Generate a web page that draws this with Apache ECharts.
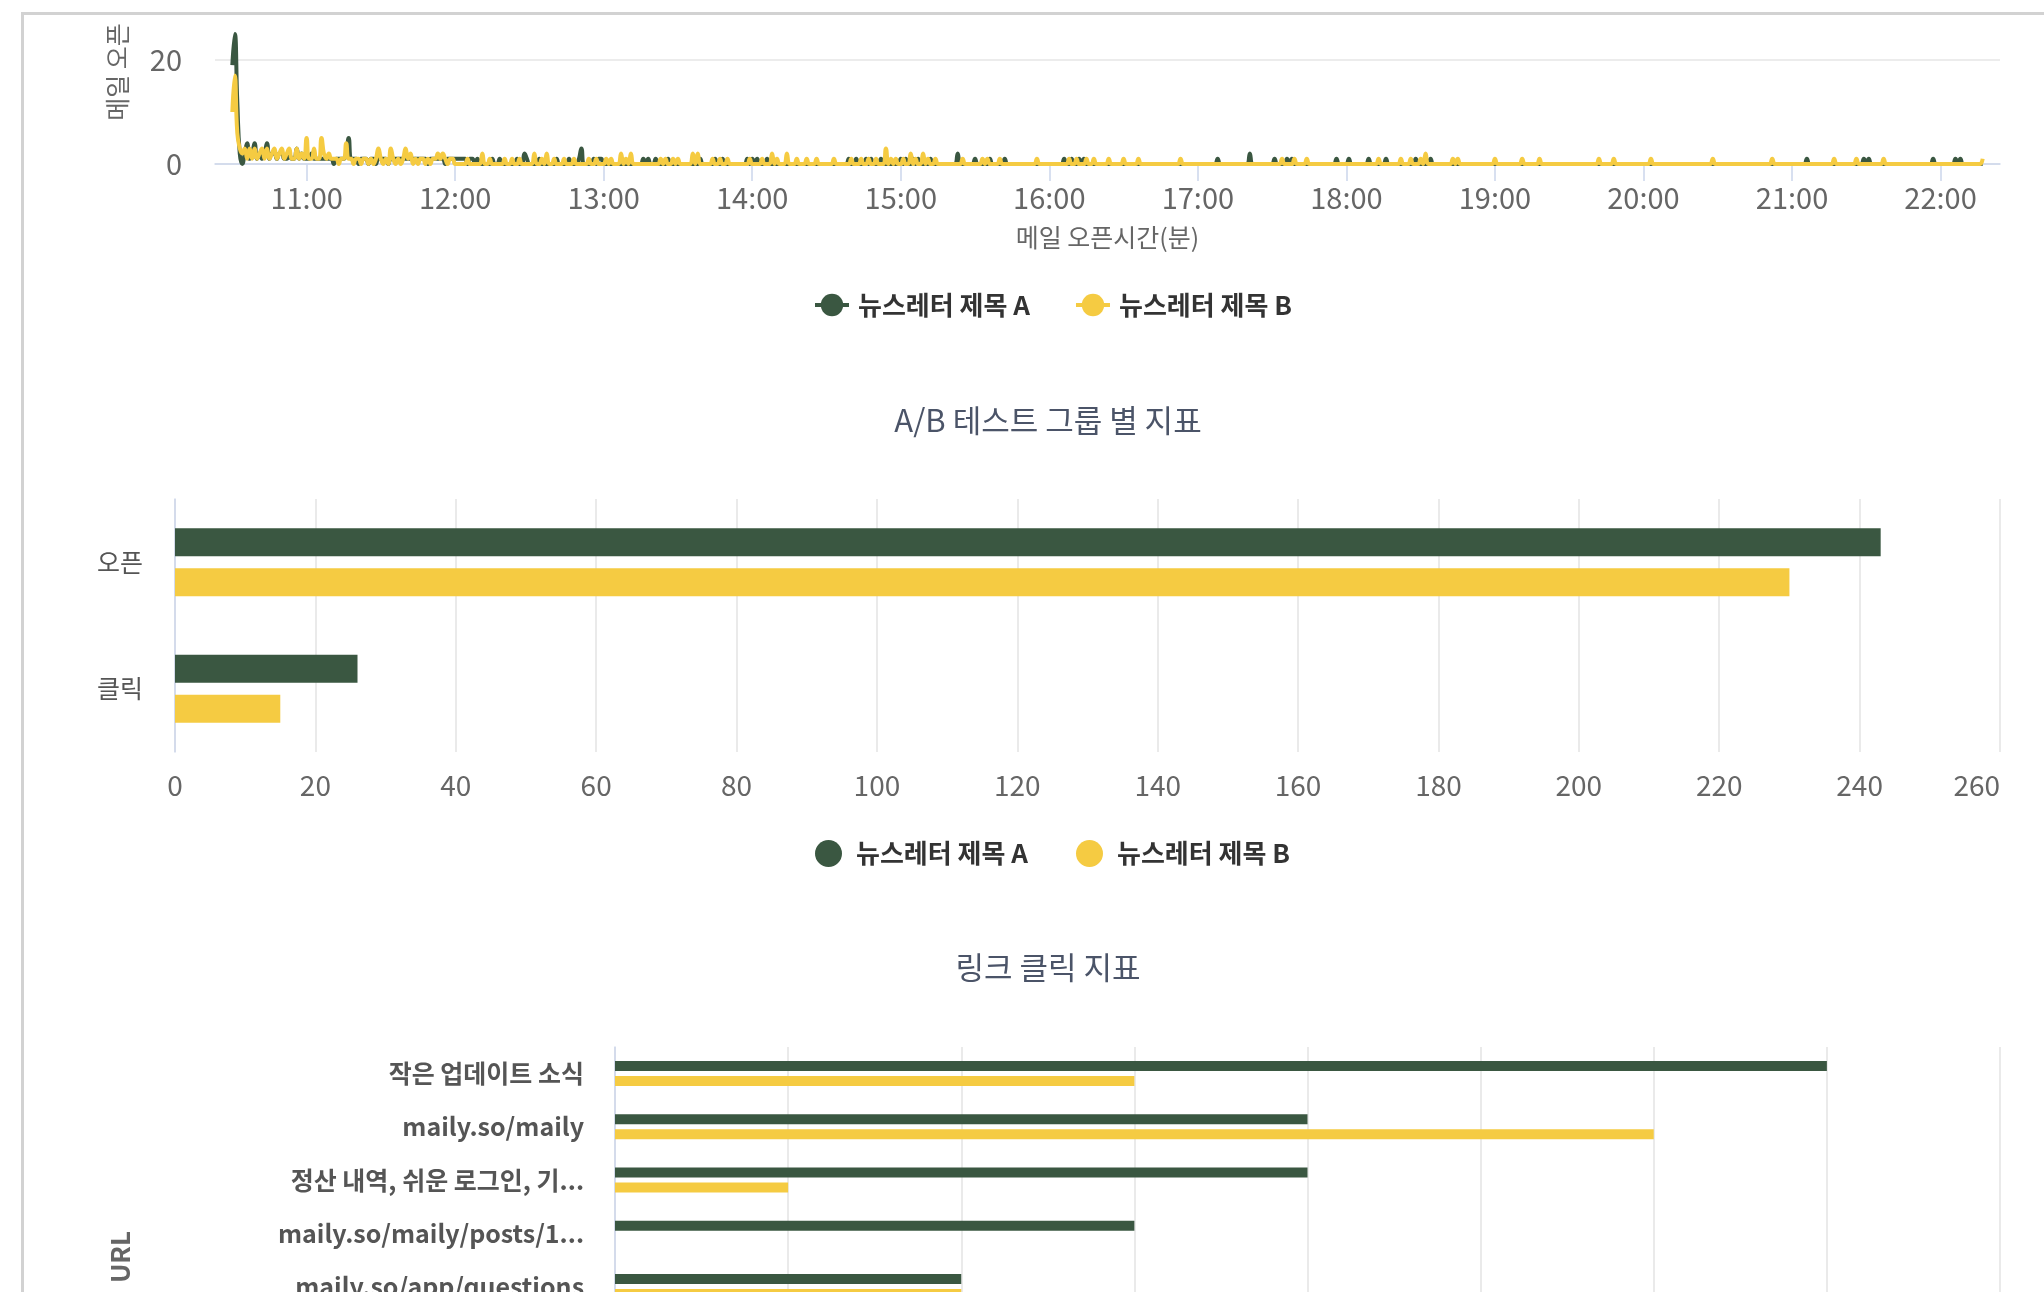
<!DOCTYPE html>
<html>
<head>
<meta charset="utf-8">
<title>뉴스레터 A/B 테스트 리포트</title>
<script src="https://cdn.jsdelivr.net/npm/echarts@6/dist/echarts.min.js"></script>
<style>
  html, body { margin: 0; padding: 0; background: #fff; overflow: hidden; }
  /* 페이지가 스크롤된 상태라 세 번째 차트는 화면 아래로 잘린다 */
  #chart { position: absolute; left: 0; top: 0; width: 2044px; height: 1600px; }
  .frame-top { position: absolute; left: 21px; top: 12px; width: 2023px; height: 3px; background: #d2d2d2; }
  .frame-left { position: absolute; left: 21px; top: 12px; width: 3px; height: 1588px; background: #d2d2d2; }
</style>
</head>
<body>
<div id="chart"></div>
<div class="frame-top"></div>
<div class="frame-left"></div>
<script>
var FONT = '"Noto Sans CJK KR", "Noto Sans", sans-serif';

var seriesNames = ['뉴스레터 제목 A', '뉴스레터 제목 B'];

// 분 단위 메일 오픈 수: [10:30 부터 지난 분, 오픈 수]. 목록에 없는 분은 0
var openStart = '10:30';
var openEnd = '22:17';
var opensA = [
  [0,19],[1,25],[2,12],[3,2],[5,2],[6,4],[7,1],[8,2],[9,4],[10,1],[11,2],[12,1],[13,2],[14,4],[15,1],[16,2],[17,2],[18,1],[19,2],
  [20,2],[21,1],[22,1],[23,2],[24,1],[25,1],[26,3],[27,1],[28,2],[29,1],[30,1],[31,1],[32,2],[33,1],[34,1],[35,1],[36,1],[37,1],[38,1],[39,1],
  [40,1],[42,1],[43,1],[44,1],[45,1],[46,2],[47,5],[48,1],[49,1],[50,1],[52,1],[53,1],[54,1],[56,1],[57,1],[59,1],
  [60,1],[61,1],[62,1],[64,1],[65,1],[66,1],[67,1],[68,1],[69,1],[70,1],[71,1],[72,1],[73,1],[74,1],[75,1],[76,1],[77,1],[78,1],
  [80,1],[81,1],[82,1],[83,1],[84,1],[85,1],[87,1],[88,1],[89,1],[90,1],
  [91,1],[92,1],[93,1],[94,1],[96,1],[97,1],[99,1],[105,1],[108,1],[115,1],[118,2],[119,1],[124,1],[131,1],[136,1],[140,1],[141,3],[146,1],[148,1],[149,1],
  [166,1],[168,1],[171,1],[176,1],[189,1],[195,1],[198,1],[208,1],[210,1],[212,1],
  [216,1],[249,1],[252,1],[256,1],[258,1],[262,1],
  [270,1],[272,1],[275,1],[277,1],[282,1],[293,2],[300,1],[306,1],[312,1],
  [336,1],[339,1],[342,1],[344,1],
  [398,1],[411,2],[421,1],[426,1],[428,1],[446,1],[451,1],
  [459,1],[466,1],[478,1],[484,1],
  [636,1],[659,1],[661,1],[687,1],[696,1],[698,1]
];
var opensB = [
  [0,10],[1,17],[2,6],[3,3],[4,2],[5,3],[6,1],[7,3],[8,1],[9,3],[10,1],[11,2],[12,3],[13,1],[14,3],[15,1],[16,2],[17,3],[18,1],[19,2],
  [20,3],[21,1],[22,2],[23,3],[24,1],[25,1],[26,3],[27,1],[28,2],[29,1],[30,5],[31,1],[32,1],[33,3],[34,1],[35,1],[36,5],[37,2],[38,1],[39,2],
  [40,1],[41,1],[42,1],[44,1],[45,1],[46,4],[47,1],[48,1],[50,1],[51,1],[53,1],[54,1],[56,1],[58,1],[59,3],
  [60,1],[62,1],[64,3],[65,1],[67,1],[69,1],[70,3],[71,1],[72,2],[74,1],[76,1],[77,1],[79,1],[81,1],[82,1],[83,2],[84,1],[85,2],[86,1],[88,1],[89,1],
  [95,1],[101,2],[104,1],[110,1],[113,1],[116,1],[122,2],[125,1],[127,2],[130,1],[134,1],[138,1],[144,1],[147,1],
  [151,1],[153,1],[157,2],[159,1],[161,2],[173,1],[175,1],[178,1],[180,1],[186,2],[188,2],[194,1],[197,1],[200,1],[209,1],
  [214,1],[218,2],[220,1],[224,2],[228,1],[232,1],[236,1],[243,1],[250,1],[254,1],[257,1],[260,1],[264,3],[266,1],
  [268,1],[271,1],[274,2],[276,1],[279,2],[281,1],[284,1],[295,1],[303,1],[305,1],[310,1],[325,1],
  [338,1],[341,1],[345,1],[348,1],[354,1],[360,1],[366,1],[383,1],
  [424,1],[429,1],[434,1],
  [463,1],[472,1],[476,1],[480,1],[482,2],[493,1],[495,1],
  [510,1],[521,1],[528,1],[552,1],[558,1],[573,1],[598,1],[622,1],[647,1],[656,1],[667,1],[707,1]
];
var openAxisFrom = '10:23';
var openAxisTo = '22:24';

// A/B 테스트 그룹 별 지표
var abCategories = ['오픈', '클릭'];
var abValuesA = [243, 26];
var abValuesB = [230, 15];

// 링크 클릭 지표
var linkCategories = ['작은 업데이트 소식', 'maily.so/maily', '정산 내역, 쉬운 로그인, 기...', 'maily.so/maily/posts/1...', 'maily.so/app/questions'];
var linkValuesA = [7, 4, 4, 3, 2];
var linkValuesB = [3, 6, 1, 0, 2];

function toTime(hm, addMin) {
  var p = hm.split(':');
  return new Date(2024, 0, 1, +p[0], +p[1] + (addMin || 0)).getTime();
}
function pad(n) { return n < 10 ? '0' + n : '' + n; }
function hhmm(v) {
  var d = new Date(v);
  return pad(d.getHours()) + ':' + pad(d.getMinutes());
}
function minuteSeries(events) {
  var counts = {};
  events.forEach(function (e) { counts[e[0]] = e[1]; });
  var total = (toTime(openEnd) - toTime(openStart)) / 60000;
  var out = [];
  for (var m = 0; m <= total; m++) {
    out.push([toTime(openStart, m), counts[m] || 0]);
  }
  return out;
}

var myChart = echarts.init(document.getElementById('chart'));

var axisBlue = '#ccd6eb';
var labelGray = '#666';
var titleColor = '#4b5468';

var option = {
  animation: false,
  color: ['#3a5741', '#f5cb42'],
  textStyle: { fontFamily: FONT },
  title: [
    {
      text: 'A/B 테스트 그룹 별 지표',
      left: 1048, top: 405, textAlign: 'center', padding: 0,
      textStyle: { fontSize: 31, fontWeight: 'normal', color: titleColor, fontFamily: FONT }
    },
    {
      text: '링크 클릭 지표',
      left: 1048, top: 952, textAlign: 'center', padding: 0,
      textStyle: { fontSize: 31, fontWeight: 'normal', color: titleColor, fontFamily: FONT }
    }
  ],
  legend: [
    {
      data: seriesNames,
      left: 813, top: 292, padding: 0,
      itemWidth: 34, itemHeight: 28, itemGap: 44,
      lineStyle: { width: 4 },
      textStyle: { fontSize: 26, fontWeight: 'bold', color: '#333', padding: [0, 0, 0, 4], fontFamily: FONT }
    },
    {
      data: seriesNames,
      icon: 'circle',
      left: 815, top: 840, padding: 0,
      itemWidth: 27, itemHeight: 27, itemGap: 48,
      textStyle: { fontSize: 26, fontWeight: 'bold', color: '#333', padding: [0, 0, 0, 9], fontFamily: FONT }
    }
  ],
  grid: [
    { left: 215, right: 44, top: 60, height: 104 },
    { left: 175, right: 44, top: 499, height: 253 },
    { left: 615, right: 44, top: 1047, height: 266 }
  ],
  xAxis: [
    {
      type: 'time', gridIndex: 0,
      min: toTime(openAxisFrom), max: toTime(openAxisTo),
      minInterval: 3600 * 1000, maxInterval: 3600 * 1000,
      name: '메일 오픈시간(분)', nameLocation: 'middle', nameGap: 61,
      nameTextStyle: { fontSize: 25, color: labelGray, fontFamily: FONT },
      axisLine: { lineStyle: { color: axisBlue, width: 1.5 } },
      axisTick: { show: true, length: 17, lineStyle: { color: axisBlue, width: 1.5 } },
      axisLabel: { fontSize: 29, color: labelGray, margin: 19, formatter: hhmm, fontFamily: FONT },
      splitLine: { show: false }
    },
    {
      type: 'value', gridIndex: 1,
      min: 0, max: 260, interval: 20,
      axisLine: { show: false },
      axisTick: { show: false },
      axisLabel: { fontSize: 28, color: labelGray, margin: 19, alignMaxLabel: 'right', fontFamily: FONT },
      splitLine: { lineStyle: { color: '#e3e3e3', width: 1.5 } }
    },
    {
      type: 'value', gridIndex: 2,
      min: 0, max: 8, interval: 1,
      axisLine: { show: false },
      axisTick: { show: false },
      axisLabel: { fontSize: 28, color: labelGray, margin: 19, alignMaxLabel: 'right', fontFamily: FONT },
      splitLine: { lineStyle: { color: '#e3e3e3', width: 1.5 } }
    }
  ],
  yAxis: [
    {
      type: 'value', gridIndex: 0,
      min: 0, max: 20, interval: 20,
      axisLine: { show: false },
      axisTick: { show: false },
      axisLabel: { fontSize: 29, color: labelGray, margin: 33, fontFamily: FONT },
      splitLine: { lineStyle: { color: '#e6e6e6', width: 1.5 } }
    },
    {
      type: 'category', gridIndex: 1,
      data: abCategories, inverse: true,
      axisLine: { lineStyle: { color: axisBlue, width: 1.5 } },
      axisTick: { show: false },
      axisLabel: { fontSize: 25, color: '#555', margin: 32, fontFamily: FONT },
      splitLine: { show: false }
    },
    {
      type: 'category', gridIndex: 2,
      data: linkCategories, inverse: true,
      axisLine: { lineStyle: { color: axisBlue, width: 1.5 } },
      axisTick: { show: false },
      axisLabel: { fontSize: 25, fontWeight: 'bold', color: '#555', margin: 31, fontFamily: FONT },
      splitLine: { show: false }
    }
  ],
  graphic: [
    {
      type: 'text', x: 117, y: 72, rotation: Math.PI / 2,
      style: { text: '메일 오픈', fontSize: 25, fill: labelGray, align: 'center', verticalAlign: 'middle', fontFamily: FONT }
    },
    {
      type: 'text', x: 120, y: 1257, rotation: Math.PI / 2,
      style: { text: 'URL', fontSize: 26, fontWeight: 'bold', fill: labelGray, align: 'center', verticalAlign: 'middle', fontFamily: FONT }
    }
  ],
  series: [
    {
      name: seriesNames[0], type: 'line', xAxisIndex: 0, yAxisIndex: 0,
      data: minuteSeries(opensA), clip: false,
      smooth: 0.5, symbol: 'circle', symbolSize: 14, showSymbol: false,
      lineStyle: { width: 4 }
    },
    {
      name: seriesNames[1], type: 'line', xAxisIndex: 0, yAxisIndex: 0,
      data: minuteSeries(opensB), clip: false,
      smooth: 0.5, symbol: 'circle', symbolSize: 14, showSymbol: false,
      lineStyle: { width: 4 }
    },
    {
      name: seriesNames[0], type: 'bar', xAxisIndex: 1, yAxisIndex: 1,
      data: abValuesA, barWidth: 28, barGap: '43%'
    },
    {
      name: seriesNames[1], type: 'bar', xAxisIndex: 1, yAxisIndex: 1,
      data: abValuesB, barWidth: 28, barGap: '43%'
    },
    {
      name: seriesNames[0], type: 'bar', xAxisIndex: 2, yAxisIndex: 2,
      data: linkValuesA, barWidth: 10, barGap: '50%'
    },
    {
      name: seriesNames[1], type: 'bar', xAxisIndex: 2, yAxisIndex: 2,
      data: linkValuesB, barWidth: 10, barGap: '50%'
    }
  ]
};

myChart.setOption(option);
</script>
</body>
</html>
